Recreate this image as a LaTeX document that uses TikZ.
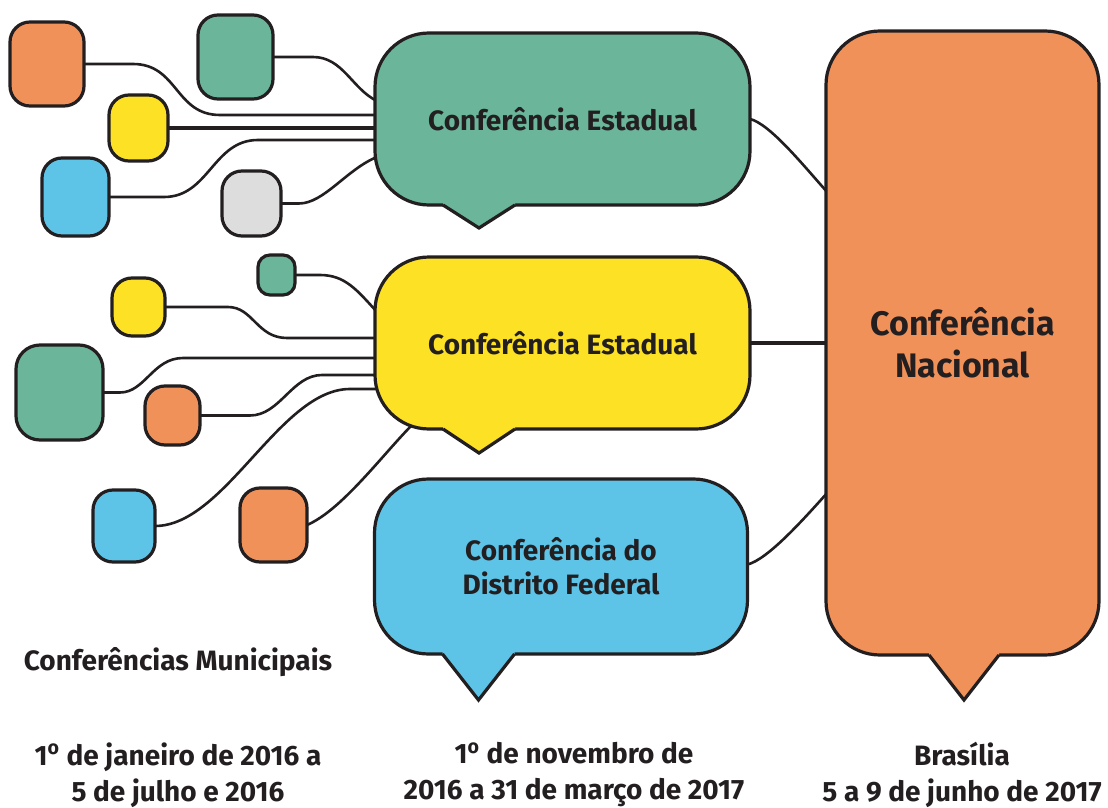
\documentclass[tikz,border=0pt]{standalone}
\usepackage{fontspec}
\setmainfont{Fira Sans}
\usepackage{tikz}
\usetikzlibrary{calc}
\pgfdeclarelayer{background}
\pgfsetlayers{background,main}
\definecolor{verde}{HTML}{6BB59B}
\definecolor{amarelo}{HTML}{FDE125}
\definecolor{azul}{HTML}{5DC4E8}
\definecolor{laranja}{HTML}{F1915A}
\definecolor{cinza}{HTML}{DDDDDD}
\definecolor{tinta}{HTML}{231F20}

\begin{document}
\begin{tikzpicture}[x=0.5pt,y=-0.5pt,
   muni/.style={draw=tinta,line width=1.6pt,rounded corners=10pt,inner sep=0pt,outer sep=0pt},
   conf/.style={draw=tinta,line width=1.6pt,rounded corners=27pt,outer sep=0pt,
      minimum width=187.5pt,minimum height=86pt,align=center,text=tinta,
      font=\bfseries\fontsize{14}{17}\selectfont},
   link/.style={draw=tinta,line width=1.3pt},
   trunk/.style={draw=tinta,line width=2.2pt},
   rotulo/.style={text=tinta,align=center,font=\bfseries\fontsize{14}{18}\selectfont}]
\useasboundingbox (0,0) rectangle (1108,808);

% conferencias estaduais, DF e nacional
\node[conf,fill=verde] (estA) at (562.5,119) {Conferência Estadual};
\node[conf,fill=amarelo] (estB) at (562.5,343) {Conferência Estadual};
\node[conf,fill=azul,minimum width=186.5pt,minimum height=87.5pt] (df) at (561,566.5) {Conferência do\\Distrito Federal};
\node[conf,fill=laranja,minimum width=136.5pt,minimum height=312pt,
   font=\bfseries\fontsize{17}{21}\selectfont] (nac) at (962.5,343) {Conferência\\Nacional};

% pontas dos baloes
\foreach \n/\c/\a/\w/\d in {estA/verde/68/72/23, estB/amarelo/68/72/24, df/azul/68/72/46, nac/laranja/103/70/45}{
  \fill[\c] ($(\n.south west)+(\a,-3)$) -- ($(\n.south west)+(\a,0)$) -- ($(\n.south west)+(\a+\w/2,\d)$)
     -- ($(\n.south west)+(\a+\w,0)$) -- ($(\n.south west)+(\a+\w,-3)$) -- cycle;
  \draw[tinta,line width=1.6pt] ($(\n.south west)+(\a,0)$) -- ($(\n.south west)+(\a+\w/2,\d)$)
     -- ($(\n.south west)+(\a+\w,0)$);
}

% conferencias municipais
\node[muni,fill=laranja,minimum width=37pt,minimum height=42pt] (m1) at (47,64) {};
\node[muni,fill=verde,minimum width=37.5pt,minimum height=42pt] (m2) at (235.5,57) {};
\node[muni,fill=amarelo,minimum width=29.5pt,minimum height=33pt] (m3) at (138.5,128) {};
\node[muni,fill=azul,minimum width=33.5pt,minimum height=39pt] (m4) at (75.5,197) {};
\node[muni,fill=cinza,minimum width=29.5pt,minimum height=32.5pt] (m5) at (251.5,203.5) {};
\node[muni,fill=verde,minimum width=18.5pt,minimum height=20pt,rounded corners=6pt] (m6) at (276.5,275) {};
\node[muni,fill=amarelo,minimum width=26.5pt,minimum height=29pt] (m7) at (138.5,307) {};
\node[muni,fill=verde,minimum width=43.5pt,minimum height=47.5pt,rounded corners=12pt] (m8) at (59.5,392.5) {};
\node[muni,fill=laranja,minimum width=27.5pt,minimum height=29.5pt] (m9) at (172.5,415.5) {};
\node[muni,fill=azul,minimum width=31pt,minimum height=36pt] (m10) at (124,526) {};
\node[muni,fill=laranja,minimum width=33.5pt,minimum height=37pt] (m11) at (273.5,525) {};

% ligacoes
\begin{pgfonlayer}{background}
\draw[link] (m1.east) -- ++(49,0) .. controls +(45,0) and +(-45,0) .. ($(estA.west)+(-155,-4)$) -- ($(estA.west)+(6,-4)$);
\draw[link] (m2.east) -- ++(40,0) .. controls +(30,0) and +(-25,-12) .. ($(estA.west)+(2,-18)$);
\draw[trunk] (m3.east) -- (m3.east -| estA.west) -- ++(6,0);
\draw[link] (m4.east) -- ++(55,0) .. controls +(45,0) and +(-45,0) .. ($(estA.west)+(-117,21)$) -- ($(estA.west)+(6,21)$);
\draw[link] (m5.east) -- ++(18,0) .. controls +(25,0) and +(-30,12) .. ($(estA.west)+(2,38)$);

\draw[link] (m6.east) -- ++(25,0) .. controls +(25,0) and +(-20,-22) .. ($(estB.west)+(2,-31)$);
\draw[link] (m7.east) -- ++(63,0) .. controls +(25,0) and +(-30,0) .. ($(estB.west)+(-88,-5)$) -- ($(estB.west)+(6,-5)$);
\draw[link] (m8.east) -- ++(17,0) .. controls +(25,0) and +(-30,0) .. ($(estB.west)+(-192,15)$) -- ($(estB.west)+(6,15)$);
\draw[link] (m9.east) -- ++(50,0) .. controls +(30,0) and +(-30,0) .. ($(estB.west)+(-53,32)$) -- ($(estB.west)+(6,32)$);
\draw[link] (m10.east) .. controls +(70,0) and +(-70,0) .. ($(estB.west)+(-25,46)$) -- ($(estB.west)+(6,46)$);
\draw[link] (m11.east) .. controls +(35,-15) and +(-30,30) .. ($(estB.south west)+(38,-5)$);

\draw[link] (estA.east) .. controls +(20,5) and +(-25,-28) .. ($(nac.west)+(2,-150)$);
\draw[trunk] (estB.east) -- (nac.west);
\draw[link] ($(df.east)+(0,-2)$) .. controls +(20,-5) and +(-25,28) .. ($(nac.west)+(2,149)$);
\end{pgfonlayer}

% rotulos
\node[rotulo] (tmuni) at (178,662) {Conferências Municipais};
\node[rotulo] (dmuni) at (178,775) {1\textsuperscript{o} de janeiro de 2016 a\\5 de julho e 2016};
\node[rotulo] (dest) at (574,775) {1\textsuperscript{o} de novembro de\\2016 a 31 de março de 2017};
\node[rotulo] (dnac) at (962,775) {Brasília\\5 a 9 de junho de 2017};
\end{tikzpicture}
\end{document}
